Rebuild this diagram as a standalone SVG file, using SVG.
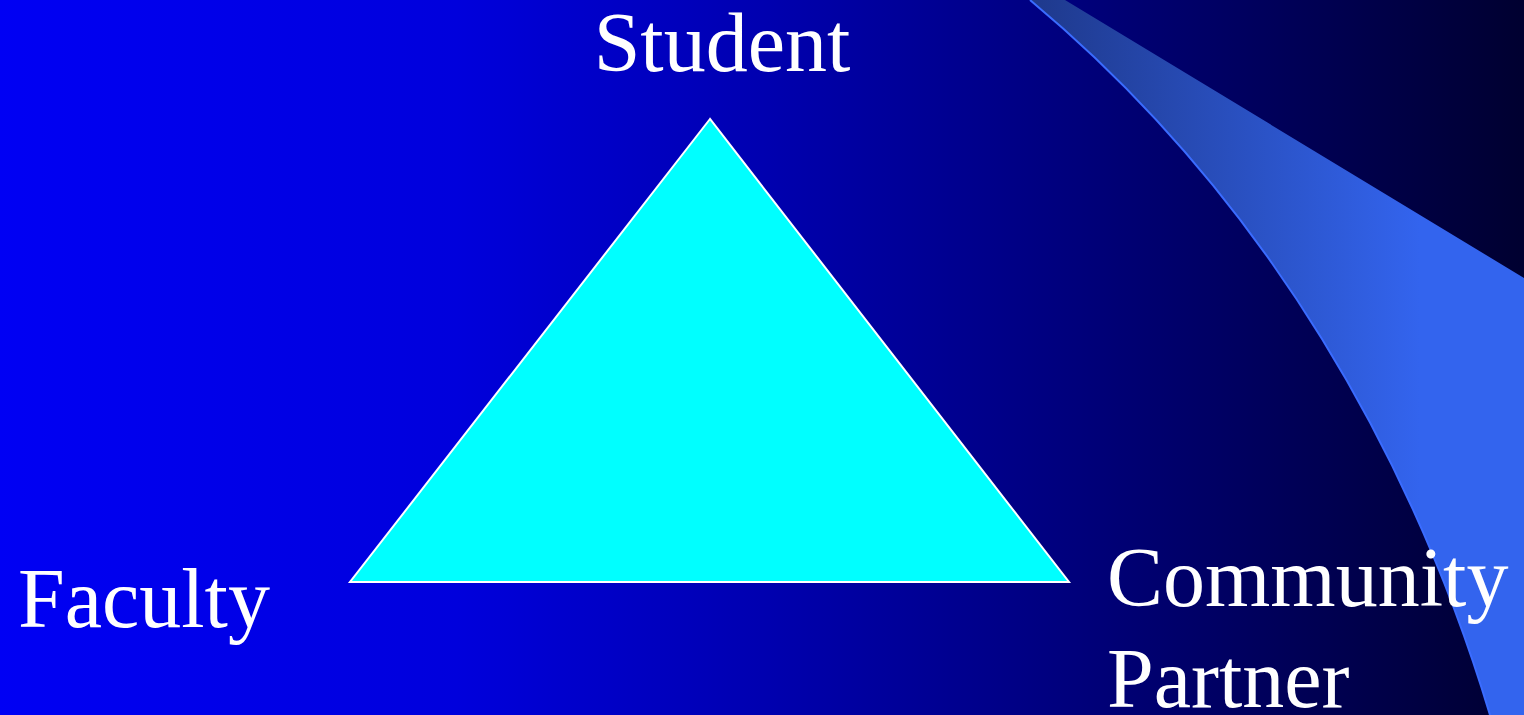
<svg xmlns="http://www.w3.org/2000/svg" width="1524" height="715" viewBox="0 0 1524 715">
<defs>
<linearGradient id="bg" x1="0" y1="0" x2="1524" y2="0" gradientUnits="userSpaceOnUse">
<stop offset="0" stop-color="#0000f4"/>
<stop offset="0.3" stop-color="#0000dc"/>
<stop offset="0.5" stop-color="#0000b0"/>
<stop offset="0.75" stop-color="#000070"/>
<stop offset="1" stop-color="#000030"/>
</linearGradient>
<linearGradient id="sw" x1="1040" y1="0" x2="1420" y2="0" gradientUnits="userSpaceOnUse">
<stop offset="0" stop-color="#1f3a8e"/>
<stop offset="1" stop-color="#3364ee"/>
</linearGradient>
<style>
.lbl{font-family:"Liberation Serif","Times New Roman",serif;font-size:84px;fill:#ffffff}
</style>
</defs>
<rect width="1524" height="715" fill="url(#bg)"/>
<g id="swoosh">
<path d="M1030,0 C1270,200 1415,465 1490,715 L1524,715 L1524,278 L1065,0 Z" fill="url(#sw)"/>
<path d="M1030,0 C1270,200 1415,465 1490,715" fill="none" stroke="#3a6cff" stroke-width="2"/>
</g>
<g id="triangle">
<polygon points="710,119 350,582 1069,582" fill="#00ffff" stroke="#ffffff" stroke-width="2"/>
</g>
<g id="student"><text class="lbl" x="722" y="71" text-anchor="middle">Student</text></g>
<g id="faculty"><text class="lbl" x="18" y="627">Faculty</text></g>
<g id="community"><text class="lbl" x="1107" y="606">Community</text><text class="lbl" x="1107" y="707">Partner</text></g>
<g id="connectors"/>
</svg>
